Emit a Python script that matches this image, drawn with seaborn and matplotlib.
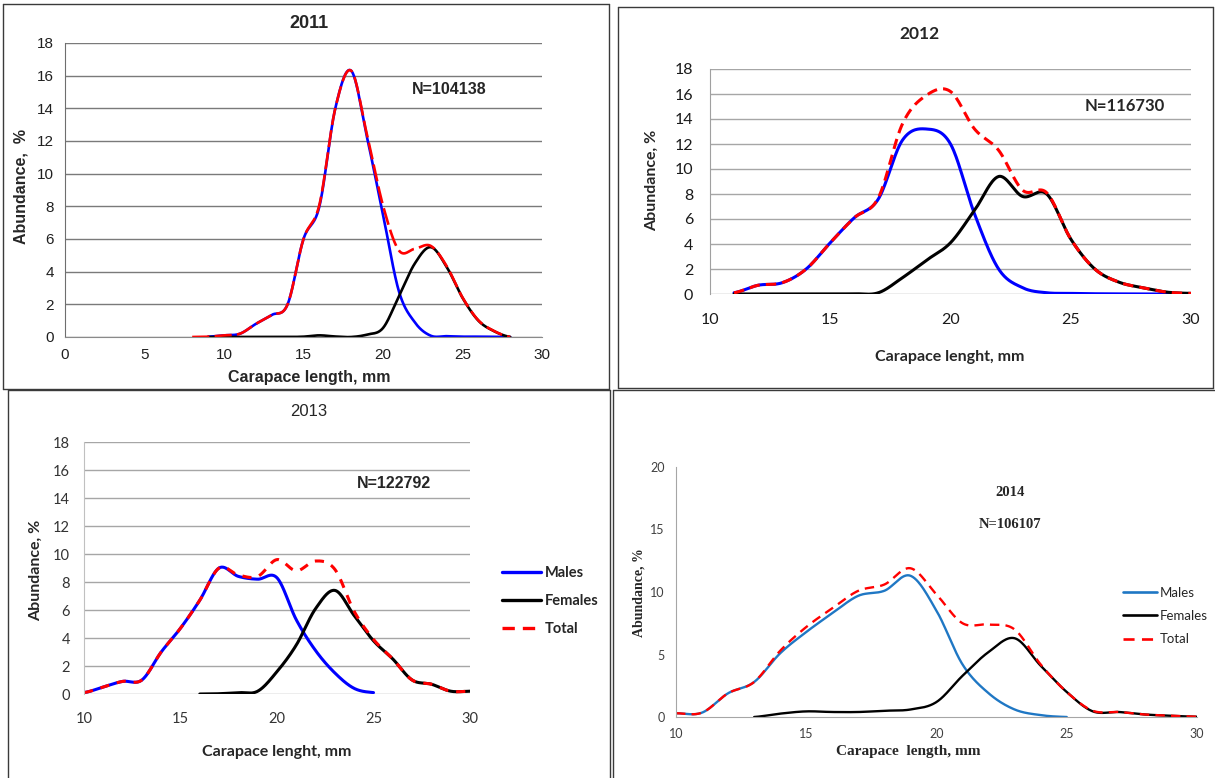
import numpy as np
import matplotlib
matplotlib.use("Agg")
import matplotlib.pyplot as plt
from matplotlib.lines import Line2D
import seaborn as sns

# ---------------- data: abundance (%) by carapace length (mm) ----------------
# 2011
len_2011_total = list(range(8, 29))
total_2011 = [0.0, 0.02, 0.1, 0.2, 0.8, 1.35, 2.0, 6.0, 8.1, 14.0, 16.3, 12.35,
              8.05, 5.3, 5.4, 5.58, 4.35, 2.42, 1.02, 0.36, 0.0]
len_2011 = list(range(9, 29))
males_2011 = [0.02, 0.1, 0.2, 0.8, 1.35, 2.0, 6.0, 8.0, 14.0, 16.3, 12.2, 7.5,
              2.8, 0.9, 0.08, 0.05, 0.02, 0.02, 0.01, 0.0]
females_2011 = [0.0, 0.0, 0.0, 0.0, 0.0, 0.0, 0.02, 0.1, 0.03, 0.0, 0.15, 0.55,
                2.5, 4.5, 5.5, 4.3, 2.4, 1.0, 0.35, 0.0]

# 2012
len_2012 = list(range(11, 31))
males_2012 = [0.1, 0.7, 0.9, 2.0, 4.1, 6.1, 7.6, 12.3, 13.2, 12.0, 6.4, 2.0,
              0.5, 0.1, 0.05, 0.02, 0.01, 0.0, 0.0, 0.0]
females_2012 = [0.0, 0.0, 0.0, 0.0, 0.0, 0.02, 0.1, 1.3, 2.7, 4.1, 6.7, 9.4,
                7.8, 8.0, 4.4, 2.0, 0.95, 0.5, 0.15, 0.05]
total_2012 = [0.1, 0.7, 0.9, 2.0, 4.1, 6.1, 7.7, 13.6, 15.9, 16.2, 13.2, 11.5,
              8.3, 8.1, 4.4, 2.0, 0.95, 0.5, 0.15, 0.05]

# 2013
len_2013_males = list(range(10, 26))
males_2013 = [0.1, 0.5, 0.9, 1.0, 3.0, 4.7, 6.7, 9.0, 8.4, 8.2, 8.3, 5.3, 3.1,
              1.5, 0.4, 0.1]
len_2013_females = list(range(16, 31))
females_2013 = [0.0, 0.02, 0.1, 0.2, 1.6, 3.5, 6.1, 7.4, 5.6, 3.8, 2.5, 1.0,
                0.7, 0.2, 0.2]
len_2013_total = list(range(10, 31))
total_2013 = [0.1, 0.5, 0.9, 1.0, 3.0, 4.7, 6.7, 9.0, 8.5, 8.4, 9.6, 8.8, 9.5,
              8.9, 5.9, 3.9, 2.5, 1.0, 0.7, 0.2, 0.2]

# 2014
len_2014_males = list(range(10, 26))
males_2014 = [0.3, 0.35, 1.9, 2.8, 5.1, 6.8, 8.3, 9.7, 10.1, 11.3, 8.5, 4.2,
              1.9, 0.6, 0.15, 0.0]
len_2014_females = list(range(13, 31))
females_2014 = [0.0, 0.27, 0.45, 0.4, 0.4, 0.5, 0.6, 1.2, 3.3, 5.2, 6.3, 4.1,
                2.0, 0.45, 0.4, 0.2, 0.1, 0.02]
len_2014_total = list(range(10, 31))
total_2014 = [0.3, 0.35, 1.9, 2.8, 5.3, 7.2, 8.7, 10.1, 10.6, 11.9, 9.8, 7.5,
              7.4, 7.0, 4.2, 2.0, 0.5, 0.4, 0.2, 0.1, 0.02]

sample_sizes = {"2011": "N=104138", "2012": "N=116730",
                "2013": "N=122792", "2014": "N=106107"}
legend_labels = ["Males", "Females", "Total"]

# ---------------- style ----------------
sns.set_style("white")
plt.rcParams["font.family"] = ["Liberation Sans", "DejaVu Sans"]

NARROW = ["Liberation Sans Narrow", "Liberation Sans"]
ARIAL = ["Liberation Sans"]
CALIBRI = ["Lato"]
SERIF = ["Liberation Serif"]

W, H = 1215, 778
fig = plt.figure(figsize=(W / 100, H / 100), dpi=100)
fig.patch.set_facecolor("white")


def fx(px):
    return px / W


def fy(py):
    return 1 - py / H


def axes_px(left, top, right, bottom):
    return fig.add_axes([fx(left), fy(bottom), (right - left) / W, (bottom - top) / H])


def smooth(x, y, steps=30):
    """Catmull-Rom curve through the points (spreadsheet-style smoothed line)."""
    x = np.asarray(x, float)
    y = np.asarray(y, float)
    p = np.concatenate([[y[0]], y, [y[-1]]])
    t = np.linspace(0, 1, steps, endpoint=False)
    xs, ys = [], []
    for i in range(len(y) - 1):
        p0, p1, p2, p3 = p[i], p[i + 1], p[i + 2], p[i + 3]
        seg = 0.5 * (2 * p1 + (-p0 + p2) * t + (2 * p0 - 5 * p1 + 4 * p2 - p3) * t ** 2
                     + (-p0 + 3 * p1 - 3 * p2 + p3) * t ** 3)
        xs.append(x[i] + (x[i + 1] - x[i]) * t)
        ys.append(seg)
    xs.append([x[-1]])
    ys.append([y[-1]])
    return np.concatenate(xs), np.concatenate(ys)


def curve(ax, x, y, color, lw, ls="-"):
    xs, ys = smooth(x, y)
    sns.lineplot(x=xs, y=ys, ax=ax, color=color, lw=lw, ls=ls, sort=False,
                 estimator=None, legend=False, solid_capstyle="round",
                 dash_capstyle="butt")


def border(x0, y0, x1, y1, color="#3a3a3a"):
    for xa, ya, xb, yb in [(x0, y0, x1, y0), (x1, y0, x1, y1),
                           (x1, y1, x0, y1), (x0, y1, x0, y0)]:
        fig.add_artist(Line2D([fx(xa), fx(xb)], [fy(ya), fy(yb)], color=color,
                              lw=1.0, transform=fig.transFigure))


def set_label_px(ax, axis, px, py):
    inv = ax.transAxes.inverted()
    x, y = inv.transform(fig.transFigure.transform((fx(px), fy(py))))
    lab = ax.xaxis if axis == "x" else ax.yaxis
    lab.set_label_coords(x, y)
    lab.label.set_va("center")
    lab.label.set_ha("center")


# panel frames
border(3, 4, 609, 389)
border(618, 7, 1213, 388)
border(8, 390, 610, 790)
border(613, 390, 1225, 790)

BLUE = "#0000ff"
RED = "#ff0000"
BLACK = "#000000"

# ---------------- 2011 ----------------
ax = axes_px(65, 43, 542, 337)
curve(ax, len_2011, males_2011, BLUE, 1.9)
curve(ax, len_2011, females_2011, BLACK, 1.9)
curve(ax, len_2011_total, total_2011, RED, 1.9, (0, (6.5, 2.0)))
ax.set_xlim(0, 30)
ax.set_ylim(0, 18)
ax.set_xticks(range(0, 31, 5))
ax.set_yticks(range(0, 19, 2))
ax.yaxis.grid(True, color="#7a7a7a", lw=1.0)
ax.set_axisbelow(True)
for s in ["top", "right"]:
    ax.spines[s].set_visible(False)
ax.spines["left"].set_color("#6e6e6e")
ax.spines["bottom"].set_color("#8a8a8a")
ax.tick_params(axis="both", direction="out", length=4, width=1, color="#7a7a7a",
               labelsize=11, labelcolor="#202020", pad=4)
for lab in ax.get_xticklabels() + ax.get_yticklabels():
    lab.set_family(NARROW)
ax.set_xlabel("Carapace length, mm", family=NARROW, fontsize=11.5, fontweight="bold")
ax.set_ylabel("Abundance,  %", family=NARROW, fontsize=11.5, fontweight="bold")
set_label_px(ax, "x", 309, 377)
set_label_px(ax, "y", 21, 187)
fig.text(fx(309), fy(24), "2011", family=NARROW, fontsize=13, fontweight="bold",
         ha="center", va="center")
fig.text(fx(449), fy(90), sample_sizes["2011"], family=NARROW, fontsize=11.5,
         fontweight="bold", ha="center", va="center")

# ---------------- 2012 ----------------
ax = axes_px(710, 69, 1191, 294)
curve(ax, len_2012, males_2012, BLUE, 2.2)
curve(ax, len_2012, females_2012, BLACK, 2.2)
curve(ax, len_2012, total_2012, RED, 2.2, (0, (3.4, 2.0)))
ax.set_xlim(10, 30)
ax.set_ylim(0, 18)
ax.set_xticks(range(10, 31, 5))
ax.set_yticks(range(0, 19, 2))
ax.yaxis.grid(True, color="#a6a6a6", lw=1.0)
ax.set_axisbelow(True)
for s in ["top", "right", "bottom"]:
    ax.spines[s].set_visible(False)
ax.spines["left"].set_color("#a0a0a0")
ax.tick_params(axis="x", length=0, labelsize=11.5, labelcolor="#1a1a1a", pad=14)
ax.tick_params(axis="y", length=0, labelsize=11.5, labelcolor="#1a1a1a", pad=12)
for lab in ax.get_xticklabels() + ax.get_yticklabels():
    lab.set_family(CALIBRI)
ax.set_xlabel("Carapace lenght, mm", family=CALIBRI, fontsize=11.5, fontweight="bold")
ax.set_ylabel("Abundance, %", family=CALIBRI, fontsize=11.5, fontweight="bold")
set_label_px(ax, "x", 950, 357)
set_label_px(ax, "y", 652, 180)
fig.text(fx(919), fy(34), "2012", family=CALIBRI, fontsize=12.5, fontweight="bold",
         ha="center", va="center")
fig.text(fx(1125), fy(106), sample_sizes["2012"], family=CALIBRI, fontsize=12,
         fontweight="bold", ha="center", va="center")

# ---------------- 2013 ----------------
ax = axes_px(84, 442, 470, 694)
curve(ax, len_2013_males, males_2013, BLUE, 2.2)
curve(ax, len_2013_females, females_2013, BLACK, 2.2)
curve(ax, len_2013_total, total_2013, RED, 2.2, (0, (3.0, 2.6)))
ax.set_xlim(10, 30)
ax.set_ylim(0, 18)
ax.set_xticks(range(10, 31, 5))
ax.set_yticks(range(0, 19, 2))
ax.yaxis.grid(True, color="#a6a6a6", lw=1.0)
ax.set_axisbelow(True)
for s in ["top", "right", "bottom"]:
    ax.spines[s].set_visible(False)
ax.spines["left"].set_color("#c0c0c0")
ax.tick_params(axis="x", length=0, labelsize=10.5, labelcolor="#333333", pad=13)
ax.tick_params(axis="y", length=0, labelsize=10.5, labelcolor="#333333", pad=10)
for lab in ax.get_xticklabels() + ax.get_yticklabels():
    lab.set_family(CALIBRI)
ax.set_xlabel("Carapace lenght, mm", family=CALIBRI, fontsize=11.5, fontweight="bold")
ax.set_ylabel("Abundance, %", family=CALIBRI, fontsize=11.5, fontweight="bold")
set_label_px(ax, "x", 277, 752)
set_label_px(ax, "y", 36, 570)
fig.text(fx(309), fy(412), "2013", family=ARIAL, fontsize=12, ha="center", va="center")
fig.text(fx(394), fy(483), sample_sizes["2013"], family=ARIAL, fontsize=11.5,
         fontweight="bold", ha="center", va="center")
handles = [Line2D([], [], color=BLUE, lw=2.4),
           Line2D([], [], color=BLACK, lw=2.4),
           Line2D([], [], color=RED, lw=2.4, ls=(0, (3.7, 2.4)))]
ax.legend(handles, legend_labels, loc="center left",
          bbox_to_anchor=(fx(502), fy(601)), bbox_transform=fig.transFigure,
          frameon=False, handlelength=2.7, handletextpad=0.25,
          labelspacing=0.95, borderpad=0, borderaxespad=0,
          prop={"family": CALIBRI, "size": 10.5, "weight": "bold"})

# ---------------- 2014 ----------------
BLUE14 = "#1f77c4"
ax = axes_px(676, 467, 1197, 717)
curve(ax, len_2014_males, males_2014, BLUE14, 1.7)
curve(ax, len_2014_females, females_2014, BLACK, 1.7)
curve(ax, len_2014_total, total_2014, RED, 1.7, (0, (4.0, 2.6)))
ax.set_xlim(10, 30)
ax.set_ylim(0, 20)
ax.set_xticks(range(10, 31, 5))
ax.set_yticks(range(0, 21, 5))
ax.grid(False)
for s in ["top", "right"]:
    ax.spines[s].set_visible(False)
for s in ["left", "bottom"]:
    ax.spines[s].set_color("#a6a6a6")
ax.tick_params(axis="both", direction="out", length=4, width=1, color="#a6a6a6",
               labelsize=9, labelcolor="#404040", pad=4)
for lab in ax.get_xticklabels() + ax.get_yticklabels():
    lab.set_family(CALIBRI)
ax.set_xlabel("Carapace  length, mm", family=SERIF, fontsize=11, fontweight="bold")
ax.set_ylabel("Abundance, %", family=SERIF, fontsize=10, fontweight="bold")
set_label_px(ax, "x", 908, 752)
set_label_px(ax, "y", 639, 593)
fig.text(fx(1010), fy(492), "2014", family=SERIF, fontsize=10.5, fontweight="bold",
         ha="center", va="center")
fig.text(fx(1010), fy(525), sample_sizes["2014"], family=SERIF, fontsize=10.5,
         fontweight="bold", ha="center", va="center")
handles = [Line2D([], [], color=BLUE14, lw=1.9),
           Line2D([], [], color=BLACK, lw=1.9),
           Line2D([], [], color=RED, lw=1.9, ls=(0, (4.2, 2.8)))]
ax.legend(handles, legend_labels, loc="center left",
          bbox_to_anchor=(fx(1123), fy(616)), bbox_transform=fig.transFigure,
          frameon=False, handlelength=2.6, handletextpad=0.15,
          labelspacing=0.85, borderpad=0, borderaxespad=0,
          prop={"family": CALIBRI, "size": 9.5})

fig.savefig("out.png", dpi=100, facecolor="white")
